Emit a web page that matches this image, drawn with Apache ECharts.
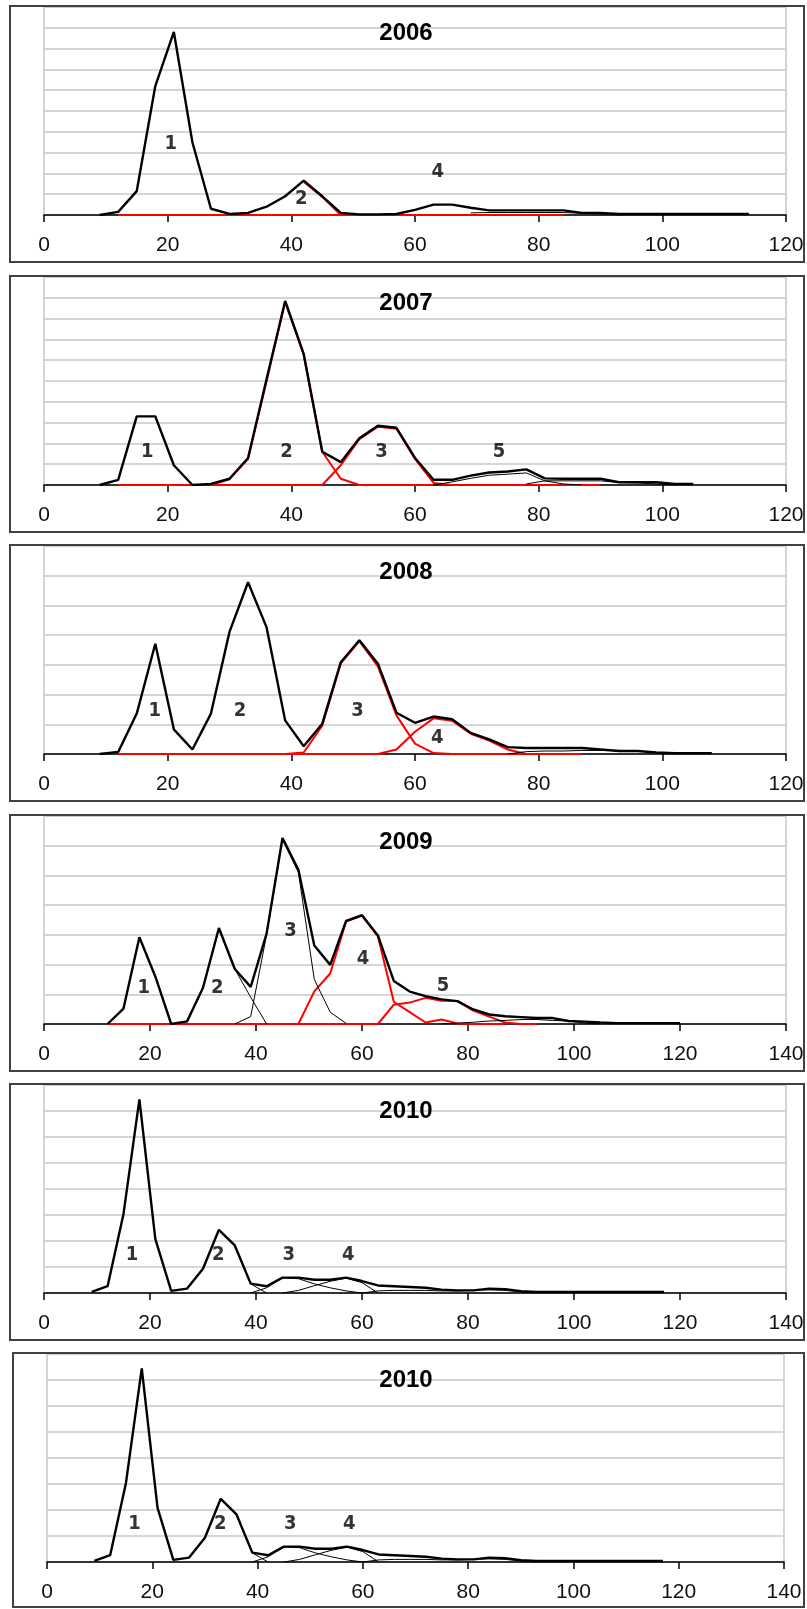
<!DOCTYPE html>
<html>
<head>
<meta charset="utf-8">
<script src="https://cdn.jsdelivr.net/npm/echarts@6.0.0/dist/echarts.min.js"></script>
<style>
html,body{margin:0;padding:0;background:#fff;}
#chart{width:807px;height:1609px;}
</style>
</head>
<body>
<div id="chart"></div>
<script>
// Length classes are 3 cm apart. Each series is [first length class, values...].
const STEP = 3;

// ---- 2006 ----
const total2006 = [9, [0, 0.15, 1.15, 6.2, 8.8, 3.5, 0.3, 0.05, 0.1, 0.4, 0.9, 1.65, 0.9, 0.1, 0.03, 0.03, 0.05, 0.25, 0.5, 0.5, 0.35, 0.22, 0.22, 0.22, 0.22, 0.22, 0.1, 0.1, 0.05, 0.05, 0.05, 0.05, 0.05, 0.05, 0.05, 0.05]];
const red2006a = [12, [0, 0, 0, 0, 0, 0, 0, 0, 0, 0, 0, 0, 0, 0, 0, 0, 0, 0, 0, 0, 0, 0, 0, 0, 0]];
const red2006b = [42, [1.6, 0.87, 0]];
const thin2006 = [69, [0.1, 0.12, 0.12, 0.12, 0.12, 0.12, 0.08, 0.05, 0]];
const labels2006 = [[20.5, 3.4, '1'], [41.6, 0.77, '2'], [63.7, 2.1, '4']];

// ---- 2007 ----
const total2007 = [9, [0, 0.25, 3.3, 3.3, 0.95, 0, 0.05, 0.3, 1.3, 5.1, 8.85, 6.3, 1.6, 1.1, 2.25, 2.85, 2.75, 1.3, 0.25, 0.25, 0.45, 0.6, 0.65, 0.75, 0.32, 0.3, 0.3, 0.3, 0.13, 0.13, 0.13, 0.05, 0.05]];
const red2007a = [12, [0, 0, 0, 0, 0, 0, 0, 0, 0, 0, 0, 0, 0.95, 2.2, 2.8, 2.7, 1.25, 0.1, 0, 0, 0, 0, 0, 0, 0, 0, 0]];
const red2007b = [27, [0, 0.28, 1.25, 5.0, 8.8, 6.25, 1.6, 0.3, 0, 0, 0, 0, 0]];
const thin2007a = [63, [0, 0.15, 0.32, 0.47, 0.52, 0.58, 0.2, 0.05, 0]];
const thin2007b = [78, [0.05, 0.2, 0.2, 0.2, 0.2, 0.12, 0.1, 0.05, 0]];
const labels2007 = [[16.7, 1.6, '1'], [39.2, 1.6, '2'], [54.6, 1.6, '3'], [73.6, 1.6, '5']];

// ---- 2008 ----
const total2008 = [9, [0, 0.07, 1.36, 3.71, 0.83, 0.15, 1.36, 4.11, 5.78, 4.26, 1.13, 0.26, 1.02, 3.09, 3.83, 3.04, 1.39, 1.05, 1.26, 1.17, 0.71, 0.49, 0.23, 0.2, 0.2, 0.2, 0.2, 0.15, 0.1, 0.1, 0.05, 0.03, 0.03, 0.03]];
const red2008a = [12, [0, 0, 0, 0, 0, 0, 0, 0, 0, 0, 0, 0, 0, 0, 0, 0.15, 0.75, 1.2, 1.12, 0.68, 0.45, 0.15, 0]];
const red2008b = [39, [0, 0.05, 0.95, 3.05, 3.8, 2.95, 1.3, 0.35, 0.03, 0, 0, 0, 0, 0, 0, 0, 0]];
const thin2008 = [75, [0, 0.08, 0.1, 0.1, 0.12, 0.12, 0.12, 0.1, 0.05, 0]];
const labels2008 = [[17.9, 1.47, '1'], [31.7, 1.47, '2'], [50.7, 1.47, '3'], [63.6, 0.54, '4']];

// ---- 2009 ----
const total2009 = [12, [0, 0.52, 2.92, 1.6, 0, 0.09, 1.22, 3.23, 1.85, 1.25, 3.04, 6.26, 5.19, 2.64, 1.99, 3.47, 3.66, 2.98, 1.45, 1.09, 0.94, 0.83, 0.77, 0.49, 0.32, 0.26, 0.23, 0.2, 0.2, 0.1, 0.08, 0.05, 0.03, 0.03, 0.03, 0.03, 0.03]];
const thin2009a = [27, [0.05, 1.2, 3.2, 1.85, 0.9, 0]];
const thin2009b = [36, [0, 0.25, 3.0, 6.2, 5.1, 1.5, 0.4, 0.02]];
const thin2009c = [75, [0, 0.03, 0.06, 0.1, 0.12, 0.15, 0.15, 0.12, 0.1, 0.03, 0]];
const red2009a = [12, [0, 0, 0, 0, 0, 0, 0, 0, 0, 0, 0, 0, 0, 1.1, 1.7, 3.45, 3.65, 2.95, 0.75, 0.4, 0.05, 0.15, 0.02, 0, 0, 0]];
const red2009b = [12, [0, 0, 0, 0, 0, 0, 0, 0, 0, 0, 0, 0, 0, 0, 0, 0, 0, 0, 0.65, 0.72, 0.88, 0.78, 0.77, 0.45, 0.25, 0.05, 0, 0]];
const labels2009 = [[18.8, 1.22, '1'], [32.7, 1.22, '2'], [46.5, 3.13, '3'], [60.2, 2.19, '4'], [75.3, 1.28, '5']];

// ---- 2010 ----
const total2010 = [9, [0.04, 0.26, 3.04, 7.45, 2.08, 0.08, 0.17, 0.93, 2.43, 1.83, 0.36, 0.26, 0.59, 0.59, 0.51, 0.51, 0.59, 0.46, 0.29, 0.26, 0.23, 0.2, 0.13, 0.1, 0.1, 0.17, 0.15, 0.07, 0.04, 0.04, 0.04, 0.04, 0.04, 0.04, 0.04, 0.04, 0.04]];
const thin2010a = [33, [2.4, 1.8, 0.35, 0]];
const thin2010b = [39, [0, 0.2, 0.58, 0.55, 0.35, 0.2, 0.08, 0]];
const thin2010c = [45, [0, 0.1, 0.28, 0.45, 0.57, 0.4, 0]];
const thin2010d = [60, [0, 0.08, 0.1, 0.1, 0.1, 0.08, 0.08, 0.1, 0.12, 0.1, 0.04, 0]];
const labels2010 = [[16.6, 1.48, '1'], [32.9, 1.48, '2'], [46.2, 1.48, '3'], [57.4, 1.48, '4']];

// panel titles and axis extents
const titles = ['2006', '2007', '2008', '2009', '2010', '2010'];
const xMaxes = [120, 120, 120, 140, 140, 140];
const yMaxes = [10, 10, 7, 7, 8, 8];

// ---- layout (pixels) ----
const panelTop = [6, 276, 545, 815, 1084, 1353];
const panelH = [256, 256, 256, 256, 256, 254];
const boxLeft = [10, 10, 10, 10, 10, 13];
const gridLeft = [44, 44, 44, 44, 44, 47];
const gridRight = [21, 21, 21, 21, 21, 23];

const panels = [
  {total: total2006, red: [red2006a, red2006b], thin: [thin2006], labels: labels2006},
  {total: total2007, red: [red2007a, red2007b], thin: [thin2007a, thin2007b], labels: labels2007},
  {total: total2008, red: [red2008a, red2008b], thin: [thin2008], labels: labels2008},
  {total: total2009, red: [red2009a, red2009b], thin: [thin2009a, thin2009b, thin2009c], labels: labels2009},
  {total: total2010, red: [], thin: [thin2010a, thin2010b, thin2010c, thin2010d], labels: labels2010},
  {total: total2010, red: [], thin: [thin2010a, thin2010b, thin2010c, thin2010d], labels: labels2010}
];

function pts(s) {
  return s[1].map((v, i) => [s[0] + STEP * i, v]);
}

const FONT = '"Liberation Sans", Arial, sans-serif';
const NARROW = '"Liberation Sans Narrow", "Arial Narrow", "DejaVu Sans Condensed", "Liberation Sans", sans-serif';
const grids = [], xAxes = [], yAxes = [], series = [], graphics = [];

panels.forEach((p, i) => {
  const T = panelTop[i];
  grids.push({
    left: gridLeft[i], right: gridRight[i], top: T + 1, height: 208,
    show: true, borderColor: '#c8c8c8', borderWidth: 1.5, backgroundColor: '#fff'
  });
  xAxes.push({
    type: 'value', gridIndex: i, min: 0, max: xMaxes[i], interval: 20,
    axisLine: {show: true, onZero: false, lineStyle: {color: '#000', width: 1.5}},
    axisTick: {show: true, inside: false, length: 7, lineStyle: {color: '#000', width: 1.5}},
    axisLabel: {show: true, fontSize: 21, color: '#111', fontFamily: FONT, margin: 20},
    splitLine: {show: false}
  });
  yAxes.push({
    type: 'value', gridIndex: i, min: 0, max: yMaxes[i], interval: 1,
    axisLine: {show: false}, axisTick: {show: false}, axisLabel: {show: false},
    splitLine: {show: true, lineStyle: {color: '#c8c8c8', width: 1.5}}
  });
  p.red.forEach(s => series.push({
    type: 'line', xAxisIndex: i, yAxisIndex: i, data: pts(s), symbol: 'none',
    lineStyle: {color: '#ff0000', width: 2}, z: 2, silent: true, animation: false
  }));
  p.thin.forEach(s => series.push({
    type: 'line', xAxisIndex: i, yAxisIndex: i, data: pts(s), symbol: 'none',
    lineStyle: {color: '#000', width: 1}, z: 3, silent: true, animation: false
  }));
  series.push({
    type: 'line', xAxisIndex: i, yAxisIndex: i, data: pts(p.total), symbol: 'none',
    lineStyle: {color: '#000', width: 2.4}, z: 4, silent: true, animation: false
  });
  series.push({
    type: 'scatter', xAxisIndex: i, yAxisIndex: i, data: p.labels,
    symbol: 'circle', symbolSize: 1, itemStyle: {color: 'transparent'},
    label: {show: true, position: 'inside', formatter: d => d.data[2],
      fontSize: 20, fontWeight: 'bold', color: '#000', fontFamily: NARROW},
    z: 6, silent: true, animation: false
  });
  graphics.push({
    type: 'rect', shape: {x: boxLeft[i], y: T, width: 804 - boxLeft[i], height: panelH[i]},
    style: {fill: 'none', stroke: '#404040', lineWidth: 2}, z: 100, silent: true
  });
  graphics.push({
    type: 'text', x: 406, y: T + 27, z: 100, silent: true,
    style: {text: titles[i], fill: '#000', font: 'bold 24px ' + FONT,
      textAlign: 'center', textVerticalAlign: 'middle', align: 'center', verticalAlign: 'middle'}
  });
});

const chart = echarts.init(document.getElementById('chart'), null, {renderer: 'canvas'});
chart.setOption({
  animation: false,
  backgroundColor: '#fff',
  grid: grids,
  xAxis: xAxes,
  yAxis: yAxes,
  series: series,
  graphic: graphics
});
</script>
</body>
</html>
